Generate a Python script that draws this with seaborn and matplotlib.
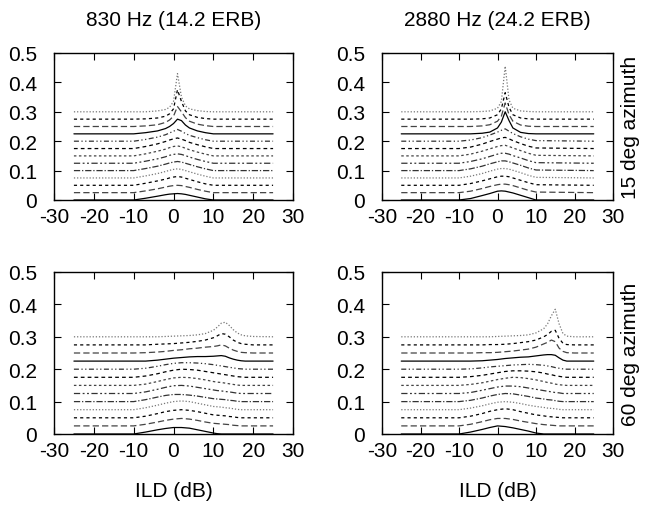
import numpy as np
import pandas as pd
import matplotlib
matplotlib.use("Agg")
import matplotlib.pyplot as plt
import seaborn as sns

# ---------------- data ----------------
OFFSETS = [0.0, 0.025, 0.05, 0.075, 0.1, 0.125, 0.15, 0.175, 0.2, 0.225, 0.25, 0.275, 0.3]

TITLES = ["830 Hz (14.2 ERB)", "2880 Hz (24.2 ERB)"]
ROW_LABELS = ["15 deg azimuth", "60 deg azimuth"]
XLABEL = "ILD (dB)"
XTICKS = [-30, -20, -10, 0, 10, 20, 30]
YTICKS = [0, 0.1, 0.2, 0.3, 0.4, 0.5]

# Panel A: 830 Hz, 15 deg
A_X = [-25, -10, -7, -4, -2, -1, 0, 1, 2, 3, 4, 6, 8, 10, 25]
A_H = [
    [0, 0, .006, .013, .018, .020, .021, .022, .021, .019, .016, .010, .004, 0, 0],
    [0, 0, .006, .013, .019, .022, .024, .025, .024, .021, .018, .011, .005, 0, 0],
    [0, 0, .007, .015, .021, .025, .028, .030, .028, .024, .020, .012, .005, 0, 0],
    [0, 0, .007, .015, .022, .026, .029, .031, .029, .025, .021, .013, .006, 0, 0],
    [0, 0, .007, .015, .022, .026, .029, .031, .029, .025, .021, .013, .006, 0, 0],
    [0, 0, .007, .015, .022, .027, .030, .032, .030, .026, .021, .013, .006, 0, 0],
    [0, 0, .007, .016, .023, .028, .032, .034, .031, .026, .021, .013, .006, 0, 0],
    [0, 0, .007, .016, .024, .029, .033, .036, .032, .027, .021, .013, .006, 0, 0],
    [0, 0, .006, .014, .022, .028, .034, .040, .034, .026, .020, .012, .005, 0, 0],
    [0, 0, .004, .010, .018, .025, .035, .050, .045, .030, .020, .010, .004, 0, 0],
    [0, 0, .002, .006, .014, .022, .035, .068, .050, .030, .018, .008, .003, 0, 0],
    [0, 0, .001, .004, .010, .018, .035, .100, .060, .028, .015, .006, .002, 0, 0],
    [0, 0, 0, .003, .008, .015, .035, .130, .050, .020, .010, .004, .001, 0, 0],
]

# Panel B: 2880 Hz, 15 deg
B_X = [-25, -10, -7, -4, -2, 0, 1, 2, 3, 4, 6, 8, 10, 25]
B_H = [
    [0, 0, .005, .015, .022, .030, .031, .030, .027, .024, .016, .008, 0, 0],
    [0, 0, .005, .014, .021, .027, .029, .029, .027, .024, .016, .008, .002, 0],
    [0, 0, .006, .015, .022, .029, .031, .031, .029, .025, .017, .009, .002, 0],
    [0, 0, .006, .015, .023, .030, .032, .032, .030, .026, .018, .009, .002, 0],
    [0, 0, .006, .015, .023, .030, .033, .033, .030, .026, .018, .009, .002, 0],
    [0, 0, .006, .015, .023, .031, .034, .034, .031, .026, .018, .009, .002, 0],
    [0, 0, .006, .016, .024, .032, .035, .036, .032, .027, .018, .009, .002, 0],
    [0, 0, .005, .015, .024, .032, .036, .038, .033, .027, .017, .008, .002, 0],
    [0, 0, .004, .012, .021, .031, .037, .042, .034, .026, .015, .007, .002, 0],
    [0, 0, 0, .002, .006, .020, .040, .075, .045, .020, .005, .001, 0, 0],
    [0, 0, 0, .002, .006, .018, .035, .080, .040, .018, .005, .001, 0, 0],
    [0, 0, 0, .001, .004, .015, .035, .090, .040, .015, .004, .001, 0, 0],
    [0, 0, 0, .001, .003, .012, .035, .155, .040, .012, .003, .001, 0, 0],
]

# Panel C: 830 Hz, 60 deg
C_X = [-25, -10, -7, -4, -2, 0, 2, 4, 6, 8, 10, 11, 12, 13, 14, 15, 16, 17, 18, 20, 25]
C_H = [
    [0, 0, .006, .013, .017, .020, .020, .018, .013, .008, .003, .001, 0, 0, 0, 0, 0, 0, 0, 0, 0],
    [0, 0, .005, .012, .017, .021, .023, .021, .017, .012, .008, .007, .006, .005, .004, .002, .001, 0, 0, 0, 0],
    [0, 0, .005, .013, .019, .023, .025, .023, .019, .014, .009, .008, .007, .006, .004, .003, .001, 0, 0, 0, 0],
    [0, 0, .006, .014, .020, .025, .027, .025, .020, .015, .010, .009, .008, .006, .005, .003, .001, 0, 0, 0, 0],
    [0, 0, .006, .014, .019, .022, .022, .020, .017, .013, .009, .008, .007, .006, .004, .003, .001, 0, 0, 0, 0],
    [0, 0, .005, .013, .019, .024, .025, .023, .019, .015, .011, .009, .008, .006, .005, .003, .001, 0, 0, 0, 0],
    [0, 0, .004, .012, .018, .023, .025, .024, .021, .017, .012, .010, .009, .007, .005, .003, .001, 0, 0, 0, 0],
    [0, 0, .004, .011, .017, .022, .025, .024, .022, .018, .014, .012, .010, .008, .006, .004, .002, .001, 0, 0, 0],
    [0, 0, .003, .009, .014, .018, .020, .020, .019, .017, .014, .012, .010, .008, .006, .004, .002, .001, 0, 0, 0],
    [0, 0, 0, .003, .006, .009, .011, .013, .014, .014, .015, .016, .017, .015, .010, .006, .003, .001, 0, 0, 0],
    [0, 0, .001, .003, .005, .008, .010, .013, .015, .018, .020, .022, .025, .022, .015, .009, .005, .002, .001, 0, 0],
    [0, 0, 0, .002, .003, .004, .006, .008, .011, .015, .022, .028, .035, .033, .025, .015, .008, .004, .002, 0, 0],
    [0, 0, 0, 0, .001, .002, .003, .004, .006, .010, .020, .030, .042, .045, .035, .022, .012, .006, .003, .001, 0],
]

# Panel D: 2880 Hz, 60 deg
D_X = [-25, -10, -7, -4, -2, 0, 2, 4, 6, 8, 10, 12, 13, 14, 15, 16, 17, 18, 20, 25]
D_H = [
    [0, 0, .006, .014, .020, .025, .023, .019, .014, .009, .003, 0, 0, 0, 0, 0, 0, 0, 0, 0],
    [0, 0, .005, .013, .019, .023, .023, .020, .015, .011, .007, .004, .003, .002, .001, 0, 0, 0, 0, 0],
    [0, 0, .005, .013, .020, .025, .028, .025, .019, .014, .009, .006, .004, .003, .002, .001, 0, 0, 0, 0],
    [0, 0, .005, .012, .018, .023, .025, .023, .019, .014, .010, .007, .005, .004, .003, .001, 0, 0, 0, 0],
    [0, 0, .004, .011, .017, .022, .025, .024, .020, .016, .011, .008, .006, .005, .003, .001, 0, 0, 0, 0],
    [0, 0, .003, .010, .015, .020, .023, .023, .021, .017, .013, .009, .007, .005, .003, .002, 0, 0, 0, 0],
    [0, 0, .003, .008, .013, .018, .022, .025, .024, .021, .017, .012, .009, .007, .004, .002, .001, 0, 0, 0],
    [0, 0, .002, .006, .010, .014, .018, .020, .020, .019, .017, .013, .010, .008, .005, .003, .001, 0, 0, 0],
    [0, 0, .001, .004, .007, .009, .011, .013, .014, .015, .014, .012, .010, .008, .005, .003, .001, 0, 0, 0],
    [0, 0, 0, .001, .003, .005, .008, .010, .012, .013, .016, .019, .020, .020, .018, .010, .003, 0, 0, 0],
    [0, 0, 0, .001, .001, .002, .004, .006, .009, .012, .018, .028, .033, .040, .035, .015, .005, .001, 0, 0],
    [0, 0, 0, 0, .001, .001, .002, .004, .007, .010, .015, .025, .032, .042, .045, .020, .005, .001, 0, 0],
    [0, 0, 0, 0, 0, .001, .002, .003, .004, .006, .012, .025, .040, .065, .085, .040, .010, .002, 0, 0],
]

PANELS = [[(A_X, A_H), (B_X, B_H)], [(C_X, C_H), (D_X, D_H)]]

# ---------------- styling ----------------
STYLE_DASHES = [None, (5, 2.5), (2.5, 2.5), (1, 1.5), (5, 1.5, 1, 1.5),
                (5, 2, 1.5, 2, 1.5, 2), (2, 2), (3, 2.5), (4, 2, 1, 2, 1, 2)]
STYLE_COLORS = ['black', '#444444', 'black', '#777777', '#333333',
                '#333333', '#444444', 'black', '#333333']

sns.set_theme(style="ticks")
plt.rcParams['font.family'] = ['Liberation Sans', 'DejaVu Sans']
plt.rcParams['text.color'] = 'black'
FS = 15

fig = plt.figure(figsize=(6.47, 5.06), dpi=100)
W, H = 647.0, 506.0
col_lr = [(54, 293), (382, 613)]
row_tb = [(54, 201), (273, 435)]

for r in range(2):
    for c in range(2):
        l, rr = col_lr[c]
        t, b = row_tb[r]
        ax = fig.add_axes([l / W, 1 - b / H, (rr - l) / W, (b - t) / H])
        X, Hs = PANELS[r][c]
        for i, (off, h) in enumerate(zip(OFFSETS, Hs)):
            s = i % 9
            d = STYLE_DASHES[s]
            ls = '-' if d is None else (0, d)
            y = np.array(h) + off
            sns.lineplot(x=X, y=y, ax=ax, color=STYLE_COLORS[s], linestyle=ls,
                         lw=0.9, sort=False, estimator=None)
        ax.set_xlim(-30, 30)
        ax.set_ylim(0, 0.5)
        ax.set_xticks(XTICKS)
        ax.set_yticks(YTICKS)
        ax.set_xticklabels([str(v) for v in XTICKS])
        ax.set_yticklabels(["0"] + [f"{v:.1f}" for v in YTICKS[1:]])
        ax.tick_params(direction='in', top=True, right=True, length=5, width=0.8,
                       labelsize=FS, colors='black', labelcolor='black')
        ax.tick_params(axis='x', pad=5)
        ax.tick_params(axis='y', pad=12)
        for sp in ax.spines.values():
            sp.set_linewidth(1.0)
            sp.set_color('black')
        ax.set_xlabel("")
        ax.set_ylabel("")
        cx = (l + rr) / 2 / W
        if r == 0:
            fig.text(cx, 1 - 20 / H, TITLES[c], ha='center', va='center',
                     fontsize=FS, color='black')
        else:
            fig.text(cx, 1 - 492 / H, XLABEL, ha='center', va='center',
                     fontsize=FS, color='black')
    fig.text(631 / W, 1 - ((row_tb[r][0] + row_tb[r][1]) / 2) / H, ROW_LABELS[r],
             rotation=90, ha='center', va='center', fontsize=FS, color='black')

fig.savefig("out.png", dpi=100)
